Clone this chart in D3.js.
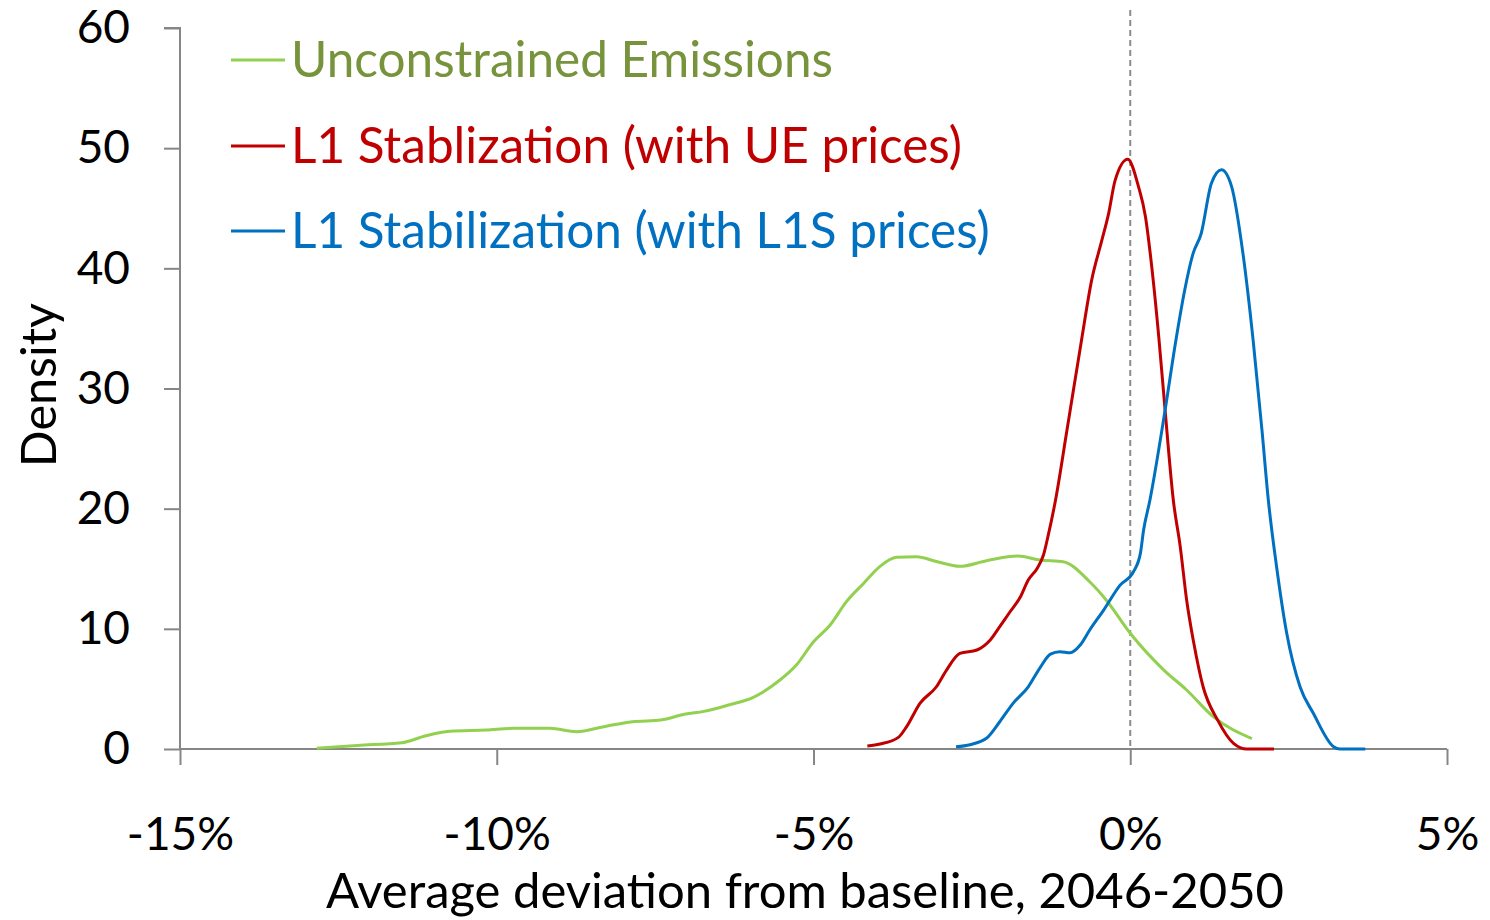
<!DOCTYPE html>
<html>
<head>
<meta charset="utf-8">
<script src="https://cdn.jsdelivr.net/npm/d3@7"></script>
<style>
  body { margin: 0; background: #fff; }
  svg text { font-family: Lato, "Open Sans", sans-serif; }
</style>
</head>
<body>
<div id="chart"></div>
<script>
// deviation (%) and density
var ueX = [-12.84, -12.2, -11.5, -11.13, -10.74, -10.17, -9.72, -9.16, -8.74, -8.31, -7.86, -7.41, -7.02, -6.73, -6.34, -5.95, -5.53, -5.27, -5.0, -4.74, -4.48, -4.21, -3.95, -3.69, -3.37, -3.06, -2.69, -2.27, -1.77, -1.42, -1.06, -0.64, -0.38, 0.0, 0.53, 0.89, 1.31, 1.92]
var ueY = [0.06, 0.3, 0.52, 1.08, 1.47, 1.58, 1.72, 1.72, 1.44, 1.86, 2.27, 2.41, 2.91, 3.13, 3.66, 4.3, 5.74, 6.99, 8.93, 10.3, 12.26, 13.78, 15.2, 15.95, 16.0, 15.6, 15.2, 15.67, 16.06, 15.72, 15.58, 13.92, 12.4, 9.63, 6.57, 4.91, 2.69, 0.86]

var l1ueX = [-4.15, -3.95, -3.66, -3.53, -3.32, -3.06, -2.9, -2.69, -2.42, -2.21, -2.06, -1.9, -1.74, -1.61, -1.47, -1.37, -1.29, -1.18, -1.0, -0.77, -0.61, -0.45, -0.34, -0.24, -0.04, 0.13, 0.24, 0.34, 0.45, 0.55, 0.68, 0.79, 0.89, 1.0, 1.15, 1.38, 1.63, 1.84, 2.27]
var l1ueY = [0.25, 0.42, 0.97, 1.86, 3.8, 5.18, 6.57, 7.96, 8.24, 9.07, 10.18, 11.4, 12.6, 14.06, 15.03, 16.14, 17.9, 20.7, 26.5, 34.0, 39.0, 42.3, 44.6, 47.3, 49.08, 46.8, 44.3, 40.1, 34.3, 28.2, 20.7, 16.8, 12.4, 8.9, 5.18, 2.4, 0.47, 0, 0]

var l1sX = [-2.75, -2.53, -2.27, -2.06, -1.85, -1.61, -1.42, -1.26, -1.11, -0.95, -0.79, -0.64, -0.42, -0.16, 0.05, 0.16, 0.21, 0.31, 0.55, 0.72, 0.86, 0.99, 1.12, 1.28, 1.44, 1.6, 1.78, 1.94, 2.08, 2.18, 2.31, 2.47, 2.68, 2.89, 3.21, 3.31, 3.71]
var l1sY = [0.19, 0.36, 0.89, 2.27, 3.8, 5.18, 6.8, 7.9, 8.1, 8.0, 8.65, 9.9, 11.56, 13.64, 14.75, 16.28, 18.2, 20.7, 28.2, 34.0, 38.2, 41.2, 42.9, 47.06, 48.2, 46.8, 41.2, 34.0, 26.5, 20.7, 15.17, 9.63, 5.18, 2.97, 0.19, 0, 0]

var seriesNames = ["Unconstrained Emissions", "L1 Stablization (with UE prices)", "L1 Stabilization (with L1S prices)"]
var lineColors = ["#92d050", "#c00000", "#0070c0"]
var textColors = ["#77933c", "#c00000", "#0070c0"]

var xTicks = [-15, -10, -5, 0, 5]
var yTicks = [0, 10, 20, 30, 40, 50, 60]

var W = 1490, H = 920
var margin = {top: 28, right: 43, bottom: 171, left: 180}
var width = W - margin.left - margin.right
var height = H - margin.top - margin.bottom

var svg = d3.select("#chart").append("svg")
  .attr("width", W)
  .attr("height", H)

var g = svg.append("g").attr("transform", "translate(" + margin.left + "," + margin.top + ")")

var x = d3.scaleLinear().domain([-15, 5]).range([0, width])
var y = d3.scaleLinear().domain([0, 60]).range([height, 0])

// zero reference line
g.append("line")
  .attr("x1", x(0)).attr("x2", x(0))
  .attr("y1", y(60) - 18).attr("y2", height)
  .style("stroke", "#8c8c8c")
  .style("stroke-width", 2)
  .style("stroke-dasharray", "6,4")

// y axis
var yAxis = d3.axisLeft(y).tickValues(yTicks).tickSize(16).tickPadding(34).tickFormat(d3.format("d"))
var ya = g.append("g").attr("class", "yaxis").call(yAxis)

// x axis
var xAxis = d3.axisBottom(x).tickValues(xTicks).tickSize(16).tickPadding(52).tickFormat(function(d){ return d + "%" })
var xa = g.append("g").attr("class", "xaxis").attr("transform", "translate(0," + height + ")").call(xAxis)

;[ya, xa].forEach(function(a){
  a.select(".domain").style("stroke", "#868686").style("stroke-width", 2)
  a.selectAll(".tick line").style("stroke", "#868686").style("stroke-width", 2)
  a.selectAll(".tick text").style("font-size", "46px").style("fill", "#000").style("font-family", "Lato, sans-serif")
})
ya.select(".domain").attr("d", "M-16," + y(60) + "H0V" + height)
xa.select(".domain").attr("d", "M0,0H" + width)

var line = d3.line()
  .x(function(d){ return x(d[0]) })
  .y(function(d){ return y(d[1]) })
  .curve(d3.curveMonotoneX)

var series = [d3.zip(ueX, ueY), d3.zip(l1ueX, l1ueY), d3.zip(l1sX, l1sY)]

g.selectAll(".series").data(series).enter().append("path")
  .attr("class", "series")
  .attr("d", line)
  .style("fill", "none")
  .style("stroke", function(d, i){ return lineColors[i] })
  .style("stroke-width", 3)

// legend
var legendY = [60, 146, 231]
var legend = svg.selectAll(".legend").data(seriesNames).enter().append("g").attr("class", "legend")
legend.append("line")
  .attr("x1", 231).attr("x2", 285)
  .attr("y1", function(d, i){ return legendY[i] })
  .attr("y2", function(d, i){ return legendY[i] })
  .style("stroke", function(d, i){ return lineColors[i] })
  .style("stroke-width", 3)
legend.append("text")
  .attr("x", 291)
  .attr("y", function(d, i){ return legendY[i] + 17 })
  .style("font-size", "49.5px")
  .style("fill", function(d, i){ return textColors[i] })
  .text(function(d){ return d })

// axis titles
svg.append("text")
  .attr("x", 805).attr("y", 908)
  .attr("text-anchor", "middle")
  .style("font-size", "49px")
  .text("Average deviation from baseline, 2046-2050")

svg.append("text")
  .attr("transform", "translate(56,385) rotate(-90)")
  .attr("text-anchor", "middle")
  .style("font-size", "48.5px")
  .text("Density")
</script>
</body>
</html>
